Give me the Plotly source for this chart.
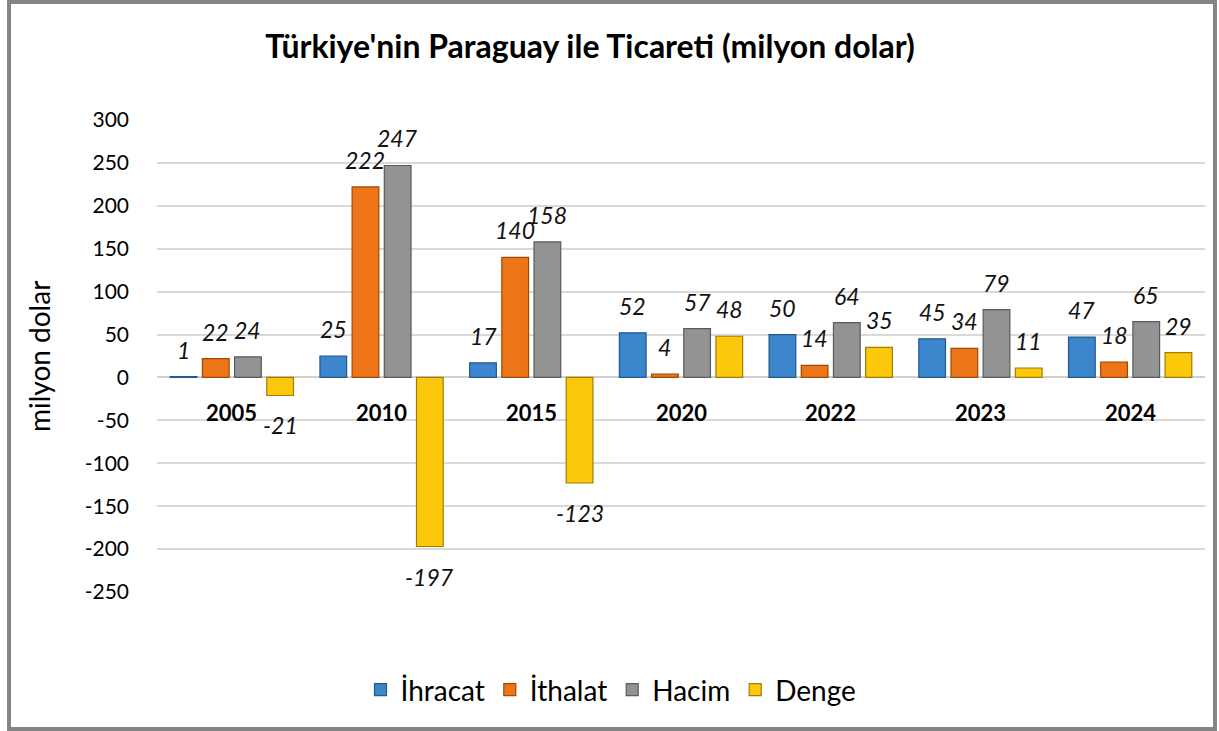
import plotly.graph_objects as go

years = ["2005", "2010", "2015", "2020", "2022", "2023", "2024"]
ihracat = [1, 25, 17, 52, 50, 45, 47]
ithalat = [22, 222, 140, 4, 14, 34, 18]
hacim = [24, 247, 158, 57, 64, 79, 65]
denge = [-21, -197, -123, 48, 35, 11, 29]
series_names = ["İhracat", "İthalat", "Hacim", "Denge"]
y_ticks = [300, 250, 200, 150, 100, 50, 0, -50, -100, -150, -200, -250]
y_tick_labels = [str(v) for v in y_ticks]

series = [ihracat, ithalat, hacim, denge]
fills = ["#3B86CC", "#EE7418", "#939393", "#FCC80C"]
edges = ["#24598A", "#9C4A08", "#5A5A5A", "#A07E00"]

W, H = 1219, 731
ML, MR, MT, MB = 157, 14, 120, 139
PW, PH = W - ML - MR, H - MT - MB
BARGAP, BARGROUPGAP = 0.14, 0.17
FONT = "Lato"


def py(pixel_from_top):
    return (MT + PH - pixel_from_top) / PH


def px(pixel_from_left):
    return (pixel_from_left - ML) / PW


fig = go.Figure()
for name, vals, fc, ec in zip(series_names, series, fills, edges):
    fig.add_trace(go.Bar(
        name=name, x=years, y=vals,
        marker=dict(color=fc, line=dict(color=ec, width=1.2)),
        hoverinfo="x+y+name",
    ))

annotations = []
slot = (1 - BARGAP) / len(series)
for i, vals in enumerate(series):
    for j, v in enumerate(vals):
        annotations.append(dict(
            x=j + (i - (len(series) - 1) / 2) * slot, y=v, xref="x", yref="y",
            text=str(v), showarrow=False, yanchor="middle",
            yshift=27 if v >= 0 else -30,
            font=dict(family=FONT, size=23, color="#111111", style="italic"),
        ))
for j, yr in enumerate(years):
    annotations.append(dict(
        x=j, y=0, xref="x", yref="y", text="<b>" + yr + "</b>", showarrow=False,
        yanchor="middle", yshift=-35,
        font=dict(family=FONT, size=22, color="#000000"),
    ))
annotations.append(dict(
    x=px(39), y=py(357), xref="paper", yref="paper",
    text="milyon dolar", textangle=-90, showarrow=False,
    xanchor="center", yanchor="middle",
    font=dict(family=FONT, size=28, color="#000000"),
))

fig.update_layout(
    width=W, height=H,
    margin=dict(l=ML, r=MR, t=MT, b=MB),
    paper_bgcolor="white", plot_bgcolor="white",
    barmode="group", bargap=BARGAP, bargroupgap=BARGROUPGAP,
    title=dict(
        text="<b>Türkiye'nin Paraguay ile Ticareti (milyon dolar)</b>",
        x=590 / W, xref="container", xanchor="center",
        y=1 - 47 / H, yref="container", yanchor="middle",
        font=dict(family=FONT, size=32, color="#000000"),
    ),
    xaxis=dict(type="category", showticklabels=False, showgrid=False,
               showline=False, zeroline=False, ticks=""),
    yaxis=dict(range=[-250, 300], tickvals=y_ticks, ticktext=y_tick_labels,
               showgrid=True, gridcolor="#D9D9D9", gridwidth=1.5, zeroline=True,
               zerolinecolor="#D0D0D0", zerolinewidth=1.5, showline=False,
               ticks="", ticklabelstandoff=27,
               tickfont=dict(family=FONT, size=21, color="#000000")),
    legend=dict(orientation="h", x=px(611), xanchor="center",
                y=py(690), yanchor="middle",
                font=dict(family=FONT, size=28, color="#000000"),
                itemwidth=30, traceorder="normal"),
    annotations=annotations,
    shapes=[dict(type="rect", xref="paper", yref="paper",
                 x0=px(9), x1=px(1215), y0=py(729), y1=py(2),
                 line=dict(color="#858585", width=4), layer="below")],
    showlegend=True,
)

fig.write_html("out.html", config={"displayModeBar": False},
               post_script="document.body.style.margin='0';document.body.style.overflow='hidden';")
